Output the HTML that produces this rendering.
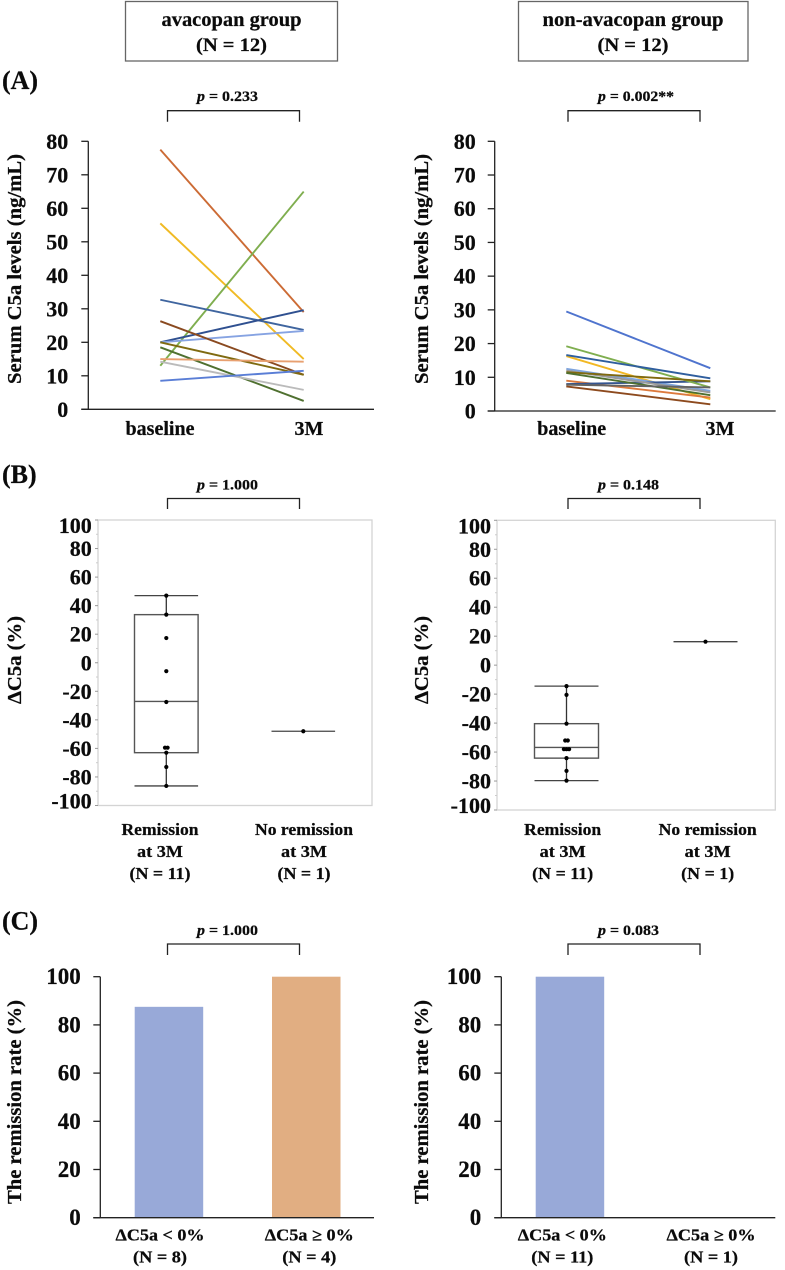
<!DOCTYPE html>
<html lang="en">
<head>
<meta charset="utf-8">
<title>Serum C5a levels and remission</title>
<style>
html,body{margin:0;padding:0;background:#fff;}
svg{display:block;filter:blur(.35px);}
text{font-family:"Liberation Serif",serif;font-weight:bold;fill:#0b0b0b;stroke:#0b0b0b;stroke-width:.25px;}
</style>
</head>
<body>
<svg id="fig" xmlns="http://www.w3.org/2000/svg" width="785" height="1270" viewBox="0 0 785 1270">
  <rect x="125.5" y="1.5" width="212" height="59.5" fill="#fff" stroke="#666" stroke-width="1.3"/>
  <text x="231.5" y="26" text-anchor="middle" font-size="20" textLength="140" lengthAdjust="spacingAndGlyphs">avacopan group</text>
  <text x="231.5" y="51" text-anchor="middle" font-size="19" textLength="71" lengthAdjust="spacingAndGlyphs">(N = 12)</text>
  <rect x="518.5" y="1.5" width="229.5" height="59.5" fill="#fff" stroke="#666" stroke-width="1.3"/>
  <text x="633" y="26" text-anchor="middle" font-size="20" textLength="181" lengthAdjust="spacingAndGlyphs">non-avacopan group</text>
  <text x="633" y="51" text-anchor="middle" font-size="19" textLength="71" lengthAdjust="spacingAndGlyphs">(N = 12)</text>

  <text x="2" y="89" font-size="26">(A)</text>
  <text x="2" y="483" font-size="26">(B)</text>
  <text x="2" y="929.5" font-size="26">(C)</text>

  <text x="197" y="101" font-size="14.5" textLength="61" lengthAdjust="spacingAndGlyphs"><tspan font-style="italic">p</tspan> = 0.233</text>
  <text x="598" y="101" font-size="14.5" textLength="76" lengthAdjust="spacingAndGlyphs"><tspan font-style="italic">p</tspan> = 0.002**</text>
  <text x="197" y="489.5" font-size="14.5" textLength="61" lengthAdjust="spacingAndGlyphs"><tspan font-style="italic">p</tspan> = 1.000</text>
  <text x="598" y="489.5" font-size="14.5" textLength="61" lengthAdjust="spacingAndGlyphs"><tspan font-style="italic">p</tspan> = 0.148</text>
  <text x="197" y="935" font-size="14.5" textLength="61" lengthAdjust="spacingAndGlyphs"><tspan font-style="italic">p</tspan> = 1.000</text>
  <text x="598" y="935" font-size="14.5" textLength="61" lengthAdjust="spacingAndGlyphs"><tspan font-style="italic">p</tspan> = 0.083</text>

  <g fill="none" stroke="#222" stroke-width="1.3">
    <path d="M167.5 121.7V110.7H299.5V121.7"/>
    <path d="M568 121.7V110.7H700V121.7"/>
    <path d="M167.5 509V498.5H299.5V509"/>
    <path d="M568 509V498.5H700V509"/>
    <path d="M167.5 955V944H299.5V955"/>
    <path d="M568 955V944H700V955"/>
  </g>

  <text transform="translate(21 269) rotate(-90)" text-anchor="middle" font-size="20" textLength="230" lengthAdjust="spacingAndGlyphs">Serum C5a levels (ng/mL)</text>
  <text transform="translate(428 269) rotate(-90)" text-anchor="middle" font-size="20" textLength="230" lengthAdjust="spacingAndGlyphs">Serum C5a levels (ng/mL)</text>
  <text transform="translate(21 660) rotate(-90)" text-anchor="middle" font-size="20" textLength="88" lengthAdjust="spacingAndGlyphs">ΔC5a (%)</text>
  <text transform="translate(428 660) rotate(-90)" text-anchor="middle" font-size="20" textLength="88" lengthAdjust="spacingAndGlyphs">ΔC5a (%)</text>
  <text transform="translate(21 1102) rotate(-90)" text-anchor="middle" font-size="20" textLength="204" lengthAdjust="spacingAndGlyphs">The remission rate (%)</text>
  <text transform="translate(428 1102) rotate(-90)" text-anchor="middle" font-size="20" textLength="204" lengthAdjust="spacingAndGlyphs">The remission rate (%)</text>

  <g id="a-left"></g>
  <g id="a-right"></g>
  <g id="b-left"></g>
  <g id="b-right"></g>
  <g id="c-left"></g>
  <g id="c-right"></g>
</svg>

<script>
/* Panel A data */
const slopeCategories = ['baseline', '3M'];
const slopeTicks = [0, 10, 20, 30, 40, 50, 60, 70, 80];
const avaBaseline = [77.5, 55.5, 13, 32.7, 20, 20, 26.3, 20, 18.5, 15, 14.2, 8.5];
const ava3M = [29, 15, 65, 23.7, 29.6, 23.4, 10.3, 10.3, 2.5, 14.2, 5.8, 11.5];
const avaColors = ['#CC6B35', '#F0BA24', '#7FAE4F', '#3F659F', '#2F5090', '#86A3E2', '#8A4A20', '#7F6A10', '#4F7030', '#E8A070', '#BBBBBB', '#5A7ED6'];
const nonBaseline = [16.3, 12.5, 9, 8, 7.3, 12, 19.2, 11.5, 11.3, 7.8, 16.6, 29.5];
const non3M = [3.5, 6, 4, 8.8, 2, 5.5, 7, 8.8, 4.7, 7, 9.7, 12.7];
const nonColors = ['#F2B824', '#7FA5DE', '#DD7A3D', '#34548F', '#8D4A1E', '#9A9A9A', '#7FAE4F', '#80690F', '#4F7030', '#636363', '#2F5E9E', '#4F74CE'];

/* Panel B data */
const boxTicks = [100, 80, 60, 40, 20, 0, -20, -40, -60, -80, -100];
const boxCategoriesLine1 = ['Remission', 'No remission'];
const boxCategoriesLine2 = ['at 3M', 'at 3M'];
const boxLeftCounts = ['(N = 11)', '(N = 1)'];
const boxRightCounts = ['(N = 11)', '(N = 1)'];
const boxLeftPoints = [47, 33.7, 17.3, -5.9, -27.5, -59.5, -59.5, -63, -73, -86.3];
const boxLeftStats = [-86.3, -63, -27.1, 33.7, 47];
const boxLeftSingle = [-48];
const boxRightPoints = [-14.5, -20.5, -40.4, -52, -52, -58, -58, -58, -64.2, -73, -79.7];
const boxRightStats = [-79.7, -64.2, -56.8, -40.4, -14.5];
const boxRightSingle = [16.2];

/* Panel C data */
const barTicks = [0, 20, 40, 60, 80, 100];
const barCategories = ['ΔC5a < 0%', 'ΔC5a ≥ 0%'];
const barLeftCounts = ['(N = 8)', '(N = 4)'];
const barRightCounts = ['(N = 11)', '(N = 1)'];
const barLeftValues = [87.5, 100];
const barRightValues = [100, 0];
const barColors = ['#98A9D8', '#E1AE82'];

const NS = 'http://www.w3.org/2000/svg';
function linear(d0, d1, r0, r1) { return v => r0 + (v - d0) * (r1 - r0) / (d1 - d0); }
function mk(parent, tag, attrs, txt) {
  const el = document.createElementNS(NS, tag);
  for (const k in attrs) el.setAttribute(k, attrs[k]);
  if (txt !== undefined) el.textContent = txt;
  parent.appendChild(el);
  return el;
}
function axisLine(g, x1, y1, x2, y2, color, w) {
  const el = mk(g, 'line', { x1: x1, y1: y1, x2: x2, y2: y2, stroke: color, 'stroke-width': w });
  
  
}
function tickMark(g, x1, y, x2, color, w) {
  const el = mk(g, 'line', { x1: x1, y1: y, x2: x2, y2: y, stroke: color, 'stroke-width': w });
  
  
}
function tickLabel(g, x, y, label, size) {
  const el = mk(g, 'text', { x: x, y: y, 'text-anchor': 'end', 'font-size': size }, label);
  
  
}
function catLabel(g, x, y, label, size, width) {
  const attrs = { x: x, y: y, 'text-anchor': 'middle', 'font-size': size };
  if (width) { attrs.textLength = width; attrs.lengthAdjust = 'spacingAndGlyphs'; }
  const el = mk(g, 'text', attrs, label);
  
  
}

function drawSlope(id, cfg, base, after, colors) {
  const g = document.getElementById(id);
  const y = linear(0, 80, cfg.y0, cfg.yTop);
  axisLine(g, cfg.axisX, cfg.yTop, cfg.axisX, cfg.y0, '#222', 1.3);
  axisLine(g, cfg.axisX - 7, cfg.y0, cfg.xEnd, cfg.y0, '#222', 1.3);
  slopeTicks.forEach(t => {
    tickMark(g, cfg.axisX - 7, y(t), cfg.axisX, '#222', 1.3);
    tickLabel(g, cfg.labelX, y(t) + 7.5, String(t), 22);
  });
  base.forEach((v, i) => {
    const l = mk(g, 'line', { x1: cfg.x0, y1: y(v), x2: cfg.x1, y2: y(after[i]), stroke: colors[i], 'stroke-width': 1.9 });
    
    
  });
  slopeCategories.forEach((c, i) => catLabel(g, cfg.catX[i], 435, c, 20));
}

function drawBox(id, cfg, points, stats, single, counts) {
  const g = document.getElementById(id);
  const y = linear(-100, 100, cfg.yBottom, cfg.yTop);
  const frame = mk(g, 'rect', { x: cfg.left, y: cfg.yTop, width: cfg.right - cfg.left, height: cfg.yBottom - cfg.yTop, fill: '#fff', stroke: '#d4d4d4', 'stroke-width': 1.3 });
  
  
  boxTicks.forEach(t => {
    tickMark(g, cfg.left - 3, y(t), cfg.left, '#999', 1);
    if (t > -100) tickMark(g, cfg.left - 2, y(t - 10), cfg.left, '#ccc', 1);
    const cy = Math.max(cfg.yTop + 5.5, Math.min(cfg.yBottom - 4.5, y(t)));
    tickLabel(g, cfg.labelX, cy + 7.5, String(t), 22);
  });
  const [lo, q1, med, q3, hi] = stats;
  const cx = cfg.center[0], hw = cfg.halfW;
  const stem = mk(g, 'line', { x1: cx, y1: y(hi), x2: cx, y2: y(lo), stroke: '#333', 'stroke-width': 1.3 });
  
  
  const box = mk(g, 'rect', { x: cx - hw, y: y(q3), width: hw * 2, height: y(q1) - y(q3), fill: '#fff', stroke: '#555', 'stroke-width': 1.4 });
  
  
  const capHi = mk(g, 'line', { x1: cx - hw, y1: y(hi), x2: cx + hw, y2: y(hi), stroke: '#444', 'stroke-width': 1.3 });
  
  
  const capLo = mk(g, 'line', { x1: cx - hw, y1: y(lo), x2: cx + hw, y2: y(lo), stroke: '#444', 'stroke-width': 1.3 });
  
  
  const medLine = mk(g, 'line', { x1: cx - hw, y1: y(med), x2: cx + hw, y2: y(med), stroke: '#555', 'stroke-width': 1.4 });
  
  
  points.forEach((v, i) => {
    const same = points.filter(p => p === v).length;
    const idx = points.slice(0, i).filter(p => p === v).length;
    const dx = (idx - (same - 1) / 2) * 2.6;
    const d = mk(g, 'circle', { cx: cx + dx, cy: y(v), r: 2.1, fill: '#000' });
    
    
  });
  const sx = cfg.center[1];
  single.forEach(v => {
    const sl = mk(g, 'line', { x1: sx - hw, y1: y(v), x2: sx + hw, y2: y(v), stroke: '#444', 'stroke-width': 1.3 });
    
    
    const sd = mk(g, 'circle', { cx: sx, cy: y(v), r: 2.1, fill: '#000' });
    
    
  });
  boxCategoriesLine1.forEach((c, i) => {
    catLabel(g, cfg.catX[i], 835, c, 17, i === 0 ? 77 : 98);
    catLabel(g, cfg.catX[i], 857, boxCategoriesLine2[i], 17, 46);
    catLabel(g, cfg.catX[i], 879, counts[i], 17, i === 0 ? 61 : 53);
  });
}

function drawBars(id, cfg, values, counts) {
  const g = document.getElementById(id);
  const y = linear(0, 100, 1217.7, 976.7);
  values.forEach((v, i) => {
    if (v <= 0) return;
    const b = mk(g, 'rect', { x: cfg.barX[i], y: y(v), width: 68.5, height: y(0) - y(v), fill: barColors[i] });
    
    
  });
  axisLine(g, cfg.axisX, 976.7, cfg.axisX, 1217.7, '#222', 1.3);
  axisLine(g, cfg.axisX - 7, 1217.7, cfg.xEnd, 1217.7, '#222', 1.3);
  barTicks.forEach(t => {
    tickMark(g, cfg.axisX - 7, y(t), cfg.axisX, '#222', 1.3);
    tickLabel(g, cfg.labelX, y(t) + 7.5, String(t), 23);
  });
  barCategories.forEach((c, i) => {
    catLabel(g, cfg.catX[i], 1240.7, c, 16.5, 89);
    catLabel(g, cfg.catX[i], 1262.7, counts[i], 17, counts[i].length > 7 ? 62 : 54);
  });
}

drawSlope('a-left', { axisX: 88.3, xEnd: 374, yTop: 141.3, y0: 409.3, x0: 160.3, x1: 303.7, labelX: 68.3, catX: [160, 309] }, avaBaseline, ava3M, avaColors);
drawSlope('a-right', { axisX: 494.7, xEnd: 775.7, yTop: 141.3, y0: 411, x0: 566.3, x1: 710.3, labelX: 475.7, catX: [571.7, 720] }, nonBaseline, non3M, nonColors);
drawBox('b-left', { left: 98, right: 372, yTop: 520, yBottom: 805.5, labelX: 91.7, center: [166.3, 303.3], halfW: 31.8, catX: [160, 304] }, boxLeftPoints, boxLeftStats, boxLeftSingle, boxLeftCounts);
drawBox('b-right', { left: 497, right: 775.3, yTop: 520.3, yBottom: 810, labelX: 491, center: [566.5, 705.5], halfW: 32, catX: [562.7, 707.7] }, boxRightPoints, boxRightStats, boxRightSingle, boxRightCounts);
drawBars('c-left', { axisX: 100.3, xEnd: 374, labelX: 80.7, barX: [134.7, 272], catX: [160, 309.3] }, barLeftValues, barLeftCounts);
drawBars('c-right', { axisX: 501.3, xEnd: 775.3, labelX: 481.3, barX: [535.7, 673], catX: [562.3, 711] }, barRightValues, barRightCounts);
</script>
</body>
</html>
